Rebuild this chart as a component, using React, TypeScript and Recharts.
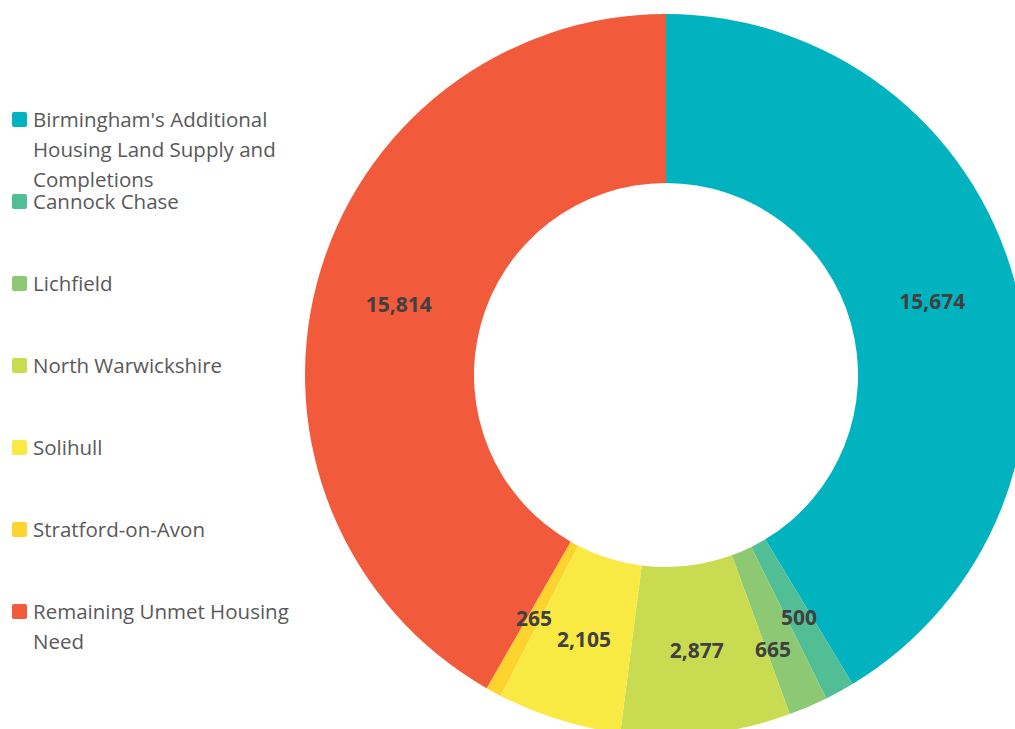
import React from "react";
import { PieChart, Pie, Cell, Legend } from "recharts";

const categories = [
  "Birmingham's Additional Housing Land Supply and Completions",
  "Cannock Chase",
  "Lichfield",
  "North Warwickshire",
  "Solihull",
  "Stratford-on-Avon",
  "Remaining Unmet Housing Need",
];
const values = [15674, 500, 665, 2877, 2105, 265, 15814];
const colors = ["#00B3BF", "#52BE95", "#8DC973", "#C9DC51", "#F8EA42", "#FDD42E", "#F15A3B"];

const data = categories.map((name, i) => ({ name, value: values[i] }));

const RAD = Math.PI / 180;
const labelNudge: Record<number, [number, number]> = { 2: [-2, 20] };

const renderLabel = (props: any) => {
  const { cx, cy, midAngle, innerRadius, outerRadius, value, index } = props;
  const r = (innerRadius + outerRadius) / 2;
  const n = labelNudge[index] || [0, 0];
  const x = cx + r * Math.cos(-midAngle * RAD) + n[0];
  const y = cy + r * Math.sin(-midAngle * RAD) + n[1];
  return (
    <text
      x={x}
      y={y}
      textAnchor="middle"
      dominantBaseline="central"
      fill="#404040"
      fontFamily="'Open Sans', sans-serif"
      fontWeight={700}
      fontSize={21}
    >
      {Number(value).toLocaleString("en-US")}
    </text>
  );
};

const LegendContent = () => (
  <div style={{ position: "relative", width: 310, height: 729 }}>
    {categories.map((c, i) => (
      <div
        key={c}
        style={{
          position: "absolute",
          left: 12,
          top: 104 + i * 82,
          display: "flex",
          alignItems: "flex-start",
          fontFamily: "'Open Sans', sans-serif",
          fontSize: 20.5,
          lineHeight: "30px",
          color: "#595959",
        }}
      >
        <div
          style={{
            width: 15,
            height: 15,
            marginTop: 8,
            marginRight: 6,
            background: colors[i],
            borderRadius: 2,
            flex: "none",
          }}
        />
        <div style={{ width: 275 }}>{c}</div>
      </div>
    ))}
  </div>
);

export default function App() {
  return (
    <div style={{ position: "absolute", left: 0, top: 0, width: 1015, height: 729, background: "#fff" }}>
      <PieChart width={1015} height={729} margin={{ top: 0, right: 0, bottom: 0, left: 0 }}>
        <Pie
          data={data}
          dataKey="value"
          nameKey="name"
          cx={666}
          cy={375}
          innerRadius={192}
          outerRadius={361}
          startAngle={90}
          endAngle={-270}
          stroke="none"
          label={renderLabel}
          labelLine={false}
          isAnimationActive={false}
        >
          {data.map((d, i) => (
            <Cell key={d.name} fill={colors[i]} />
          ))}
        </Pie>
        <Legend
          content={<LegendContent />}
          wrapperStyle={{ left: 0, top: 0, width: 310, height: 729 }}
        />
      </PieChart>
    </div>
  );
}
